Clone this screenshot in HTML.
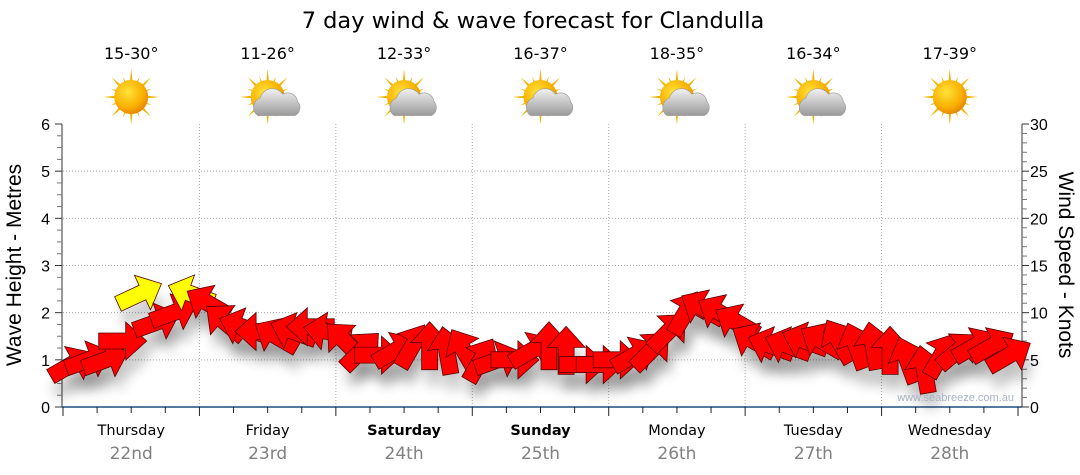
<!DOCTYPE html>
<html><head><meta charset="utf-8"><style>
html,body{margin:0;padding:0;background:#fff;}
svg{display:block;font-family:"Liberation Sans",sans-serif;}
.v{font-family:"DejaVu Sans",sans-serif;}
</style></head><body>
<svg id="chart" width="1080" height="475" viewBox="0 0 1080 475">
<defs>
<filter id="shadow" x="-50%" y="-50%" width="200%" height="200%"><feGaussianBlur stdDeviation="6"/></filter>
<radialGradient id="sunG" cx="40%" cy="35%" r="65%"><stop offset="0" stop-color="#ffe23a"/><stop offset="0.7" stop-color="#f9b000"/><stop offset="1" stop-color="#e88a00"/></radialGradient>
<linearGradient id="cloudG" x1="0" y1="0" x2="0" y2="1"><stop offset="0" stop-color="#f2f2f2"/><stop offset="1" stop-color="#9a9a9a"/></linearGradient>
</defs>
<text class="v" x="533" y="28" text-anchor="middle" font-size="22.5" fill="#000">7 day wind &amp; wave forecast for Clandulla</text>
<g id="grid"></g><g id="icons"></g><g id="axes"></g><g id="shadows"></g><g id="arrows"></g>
<text x="1014" y="401" text-anchor="end" font-size="11" fill="#aab3c4">www.seabreeze.com.au</text>
<text transform="translate(21,265) rotate(-90)" text-anchor="middle" font-size="21">Wave Height - Metres</text>
<text transform="translate(1059,265) rotate(90)" text-anchor="middle" font-size="21">Wind Speed - Knots</text>
</svg>
<script>
const days=["Thursday","Friday","Saturday","Sunday","Monday","Tuesday","Wednesday"];
const dates=["22nd","23rd","24th","25th","26th","27th","28th"];
const boldDays=[false,false,true,true,false,false,false];
const temps=["15-30°","11-26°","12-33°","16-37°","18-35°","16-34°","17-39°"];
const cloudy=[false,true,true,true,true,true,false];
const waveTicks=[0,1,2,3,4,5,6];
const windTicks=[0,5,10,15,20,25,30];
// wind every 3 hours from Thursday 00:00
const windKnots=[4.5,5,5,7,12,9,10,12, 11,9,8.5,8,7.5,8,8.5,8, 7,6,5.5,6,6.5,6.5,6,6, 5,5,5,6,6.5,6,4.5,4.5, 5,5.5,6,8,10,10.5,10,9, 7,6.5,6.5,7,7,7,6.5,6.5, 6,5,4,5.5,6,6.5,6.5,5.5];
const windDir=[-30,-20,-20,0,-25,-20,-20,-160, -150,-140,-160,180,-150,-160,180,-170, -135,-45,0,-30,-60,-90,-100,-120, -60,-20,0,-30,-90,-90,0,0, 0,-30,-45,-45,-60,-150,-150,-150, -150,-160,-160,-160,-150,-120,-110,-100, -90,-110,-100,-60,-40,-30,-30,-30];
const gustFlag=[0,0,0,0,1,0,0,1, 0,0,0,0,0,0,0,0, 0,0,0,0,0,0,0,0, 0,0,0,0,0,0,0,0, 0,0,0,0,0,0,0,0, 0,0,0,0,0,0,0,0, 0,0,0,0,0,0,0,0];

const X0=63,X1=1018,Y0=407,Y1=124;
const dayW=(X1-X0)/7;
const xT=h=>X0+h/168*(X1-X0);
const yM=m=>Y0-m/6*(Y0-Y1);
const yK=k=>Y0-k/30*(Y0-Y1);
const NS="http://www.w3.org/2000/svg";
function mk(tag,attrs,parent){const e=document.createElementNS(NS,tag);for(const k in attrs)e.setAttribute(k,attrs[k]);parent.appendChild(e);return e;}
const grid=document.getElementById('grid'),axes=document.getElementById('axes'),icons=document.getElementById('icons');
waveTicks.forEach(v=>{if(v>0&&v<6){const g=mk('line',{x1:X0,x2:X1,y1:yM(v),y2:yM(v),stroke:'#aaa','stroke-dasharray':'1,2'},grid);

}});
for(let d=1;d<7;d++){const g=mk('line',{x1:X0+d*dayW,x2:X0+d*dayW,y1:Y1,y2:Y0,stroke:'#aaa','stroke-dasharray':'1,2'},grid);

}
mk('line',{x1:62,x2:62,y1:Y1,y2:Y0,stroke:'#333'},axes);
mk('line',{x1:1022,x2:1022,y1:Y1,y2:Y0,stroke:'#333'},axes);
mk('line',{x1:62,x2:1022,y1:Y0,y2:Y0,stroke:'#1c4f80','stroke-width':1.5},axes);
for(let i=0;i<=24;i++){const y=yM(i/4);mk('line',{x1:i%4?57:55,x2:62,y1:y,y2:y,stroke:i%4?'#777':'#333'},axes);}
waveTicks.forEach(v=>{const t=mk('text',{x:50,y:yM(v)+6,'text-anchor':'end','font-size':16},axes);t.textContent=v;

});
for(let k=0;k<=30;k++){const y=yK(k);mk('line',{x1:1022,x2:k%5?1027:1029,y1:y,y2:y,stroke:k%5?'#777':'#333'},axes);}
windTicks.forEach(v=>{const t=mk('text',{x:1030,y:yK(v)+6,'font-size':16},axes);t.textContent=v;

});
for(let i=0;i<=28;i++){const x=X0+i*dayW/4;mk('line',{x1:x,x2:x,y1:Y0,y2:Y0+(i%4?6:9),stroke:'#222'},axes);}
days.forEach((d,i)=>{const cx=X0+(i+0.5)*dayW;
const t=mk('text',{class:'v',x:cx,y:435,'text-anchor':'middle','font-size':14.5,'font-weight':boldDays[i]?'bold':'normal'},axes);t.textContent=d;


const t2=mk('text',{class:'v',x:cx,y:459,'text-anchor':'middle','font-size':17,fill:'#808080'},axes);t2.textContent=dates[i];


const t3=mk('text',{class:'v',x:cx,y:59,'text-anchor':'middle','font-size':16},icons);t3.textContent=temps[i];


const g=mk('g',{transform:`translate(${cx},97)`},icons);


for(let r=0;r<16;r++){const a=r*22.5,L=r%2?22:28;mk('polygon',{points:`-3,0 0,-${L} 3,0`,fill:'#f2b400',transform:`rotate(${a})`},g);}
mk('circle',{r:17,fill:'url(#sunG)'},g);
if(cloudy[i]){const c=mk('g',{transform:'translate(10,6) scale(1.25)'},g);
mk('path',{d:'M-16,10 a8,8 0 0 1 2,-14 a10,10 0 0 1 18,-3 a8,8 0 0 1 12,6 a7,7 0 0 1 -2,11 z',fill:'url(#cloudG)',stroke:'#999','stroke-width':0.5},c);}
});
const sh=document.getElementById('shadows'),ar=document.getElementById('arrows');
const shape="M-24,-8 L3,-8 L3,-19 L24,0 L3,19 L3,8 L-24,8 Z";
windKnots.forEach((k,i)=>{const x=xT(i*3+1.5),y=yK(k),a=windDir[i];
const s=mk('path',{d:shape,fill:'#000',opacity:0.2,filter:'url(#shadow)',transform:`translate(${x+4},${y+16}) rotate(${a})`},sh);


const p=mk('path',{d:shape,fill:gustFlag[i]?'#ffff00':'#ff0000',stroke:'#5a0000','stroke-width':0.8,transform:`translate(${x},${y}) rotate(${a})`},ar);


});
</script>
</body></html>
